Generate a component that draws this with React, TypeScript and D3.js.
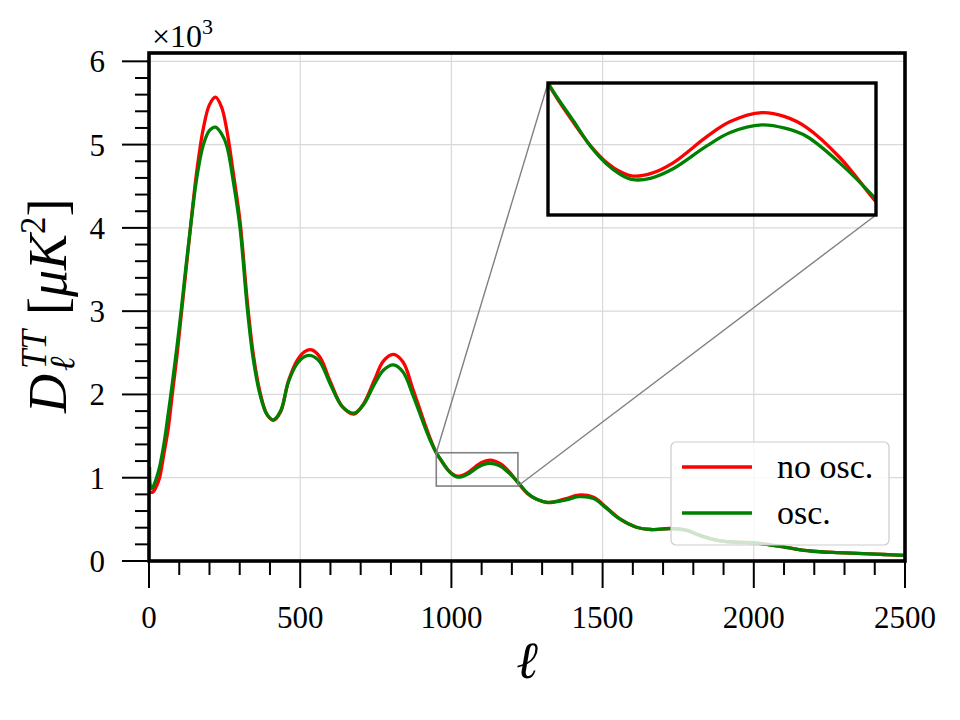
import React from "react";
import * as d3 from "d3";

// ---- data ----
const ells = [2, 5, 10, 16, 25, 35, 50, 64, 77, 92, 108, 122, 137, 158, 180, 200, 220, 240, 257, 280, 301, 326, 345, 367, 390, 411, 435, 461, 490, 515, 538, 565, 600, 640, 678, 710, 745, 775, 808, 840, 874, 910, 930, 950, 971, 985, 998, 1010, 1020, 1035, 1053, 1081, 1100, 1126, 1145, 1163, 1190, 1220, 1250, 1280, 1320, 1380, 1420, 1470, 1512, 1557, 1612, 1660, 1723, 1780, 1822, 1870, 1910, 1960, 2000, 2050, 2098, 2140, 2186, 2230, 2274, 2362, 2430, 2500];

const noOsc = [840, 828, 825, 840, 900, 1000, 1300, 1600, 2000, 2450, 3000, 3480, 4000, 4680, 5200, 5480, 5570, 5450, 5180, 4630, 4080, 3080, 2480, 2030, 1760, 1690, 1790, 2160, 2410, 2515, 2535, 2450, 2150, 1850, 1765, 1890, 2170, 2400, 2480, 2390, 2050, 1670, 1470, 1300, 1180, 1110, 1060, 1030, 1018, 1026, 1058, 1138, 1183, 1210, 1198, 1165, 1075, 940, 815, 745, 700, 750, 792, 765, 645, 505, 405, 378, 390, 368, 308, 257, 233, 224, 219, 196, 170, 144, 121, 108, 101, 89, 78, 67];

const osc = [1130, 900, 870, 910, 1000, 1130, 1420, 1780, 2130, 2560, 3060, 3530, 4000, 4600, 5000, 5170, 5210, 5130, 4990, 4530, 4000, 3000, 2420, 2000, 1760, 1695, 1800, 2150, 2370, 2455, 2465, 2390, 2120, 1850, 1775, 1880, 2120, 2290, 2355, 2270, 1980, 1630, 1450, 1300, 1185, 1108, 1055, 1022, 1007, 1012, 1040, 1110, 1150, 1173, 1163, 1138, 1058, 948, 820, 745, 705, 735, 772, 750, 635, 505, 405, 378, 388, 365, 305, 255, 232, 222, 217, 195, 169, 143, 120, 108, 101, 89, 78, 67];

const seriesNames = ["no osc.", "osc."];
const seriesColors = ["#ff0000", "#008000"];

const xMajorTicks = [0, 500, 1000, 1500, 2000, 2500];
const xTickLabels = ["0", "500", "1000", "1500", "2000", "2500"];
const yMajorTicks = [0, 1000, 2000, 3000, 4000, 5000, 6000];
const yTickLabels = ["0", "1", "2", "3", "4", "5", "6"];

const xDomain = [0, 2500];
const yDomain = [0, 6100];
const insetXDomain = [950, 1220];
const insetYDomain = [900, 1300];

const FONT = "'Liberation Serif', 'DejaVu Serif', serif";

export default function App() {
  const L = 149, R = 905, T = 53, B = 561;
  const x = d3.scaleLinear().domain(xDomain).range([L, R]);
  const y = d3.scaleLinear().domain(yDomain).range([B, T]);

  const IL = 548, IR = 876, IT = 83, IB = 215;
  const xi = d3.scaleLinear().domain(insetXDomain).range([IL, IR]);
  const yi = d3.scaleLinear().domain(insetYDomain).range([IB, IT]);

  const series = [noOsc, osc];
  const mkLine = (sx: any, sy: any) =>
    d3
      .line<number>()
      .x((_, i) => sx(ells[i]))
      .y((d) => sy(d))
      .curve(d3.curveCatmullRom.alpha(0.5));

  const mainLine = mkLine(x, y);
  const insetLine = mkLine(xi, yi);

  const xMinor = d3.range(0, 2501, 100).filter((v) => v % 500 !== 0);
  const yMinor = d3.range(0, 6001, 200).filter((v) => v % 1000 !== 0);

  const zx0 = x(insetXDomain[0]), zx1 = x(insetXDomain[1]);
  const zy0 = y(insetYDomain[1]), zy1 = y(insetYDomain[0]);

  return (
    <svg
      width={960}
      height={720}
      style={{ position: "absolute", left: 0, top: 0, background: "#fff" }}
      fontFamily={FONT}
    >
      <defs>
        <clipPath id="mainClip">
          <rect x={L} y={T} width={R - L} height={B - T} />
        </clipPath>
        <clipPath id="insetClip">
          <rect x={IL} y={IT} width={IR - IL} height={IB - IT} />
        </clipPath>
      </defs>
      <rect x={0} y={0} width={960} height={720} fill="#fff" />

      {/* grid */}
      {xMajorTicks.map((t) => (
        <line key={"gx" + t} x1={x(t)} x2={x(t)} y1={T} y2={B} stroke="#d9d9d9" strokeWidth={1.2} />
      ))}
      {yMajorTicks.map((t) => (
        <line key={"gy" + t} x1={L} x2={R} y1={y(t)} y2={y(t)} stroke="#d9d9d9" strokeWidth={1.2} />
      ))}

      {/* main curves */}
      <g clipPath="url(#mainClip)">
        {series.map((s, k) => (
          <path key={"m" + k} d={mainLine(s) || ""} fill="none" stroke={seriesColors[k]} strokeWidth={3.3} strokeLinejoin="round" />
        ))}
      </g>

      {/* zoom indicator */}
      <rect x={zx0} y={zy0} width={zx1 - zx0} height={zy1 - zy0} fill="none" stroke="#808080" strokeWidth={1.6} />
      <line x1={IL} y1={IT} x2={zx0} y2={zy0} stroke="#808080" strokeWidth={1.4} />
      <line x1={IR} y1={IB} x2={zx1} y2={zy1} stroke="#808080" strokeWidth={1.4} />

      {/* inset */}
      <g clipPath="url(#insetClip)">
        {series.map((s, k) => (
          <path key={"i" + k} d={insetLine(s) || ""} fill="none" stroke={seriesColors[k]} strokeWidth={3.3} strokeLinejoin="round" />
        ))}
      </g>
      <rect x={IL} y={IT} width={IR - IL} height={IB - IT} fill="none" stroke="#000" strokeWidth={3.4} />

      {/* legend */}
      <rect x={671} y={442} width={218} height={103} rx={5} fill="#fff" fillOpacity={0.8} stroke="#cccccc" strokeWidth={1.2} />
      {seriesNames.map((n, k) => (
        <g key={"lg" + k}>
          <line x1={682} x2={752} y1={467 + k * 46} y2={467 + k * 46} stroke={seriesColors[k]} strokeWidth={3.3} />
          <text x={777} y={478 + k * 46} fontSize={34} fill="#000">{n}</text>
        </g>
      ))}

      {/* ticks */}
      {xMajorTicks.map((t, i) => (
        <g key={"xt" + t}>
          <line x1={x(t)} x2={x(t)} y1={B} y2={B + 27} stroke="#000" strokeWidth={2} />
          <text x={x(t)} y={628} fontSize={31} textAnchor="middle">{xTickLabels[i]}</text>
        </g>
      ))}
      {xMinor.map((t) => (
        <line key={"xm" + t} x1={x(t)} x2={x(t)} y1={B} y2={B + 14} stroke="#000" strokeWidth={2} />
      ))}
      {yMajorTicks.map((t, i) => (
        <g key={"yt" + t}>
          <line x1={L - 27} x2={L} y1={y(t)} y2={y(t)} stroke="#000" strokeWidth={2} />
          <text x={105} y={y(t) + 11} fontSize={31} textAnchor="end">{yTickLabels[i]}</text>
        </g>
      ))}
      {yMinor.map((t) => (
        <line key={"ym" + t} x1={L - 14} x2={L} y1={y(t)} y2={y(t)} stroke="#000" strokeWidth={2} />
      ))}

      {/* spines */}
      <rect x={L} y={T} width={R - L} height={B - T} fill="none" stroke="#000" strokeWidth={3.6} />

      {/* offset text */}
      <text x={152} y={47} fontSize={32}>
        ×10<tspan fontSize={22} dy={-13}>3</tspan>
      </text>

      {/* x label */}
      <text x={(L + R) / 2} y={678} fontSize={52} fontStyle="italic" textAnchor="middle">ℓ</text>

      {/* y label */}
      <g transform="translate(66,413) rotate(-90)">
        <text x={0} y={0} fontSize={54} fontStyle="italic">D</text>
        <text x={44} y={-20} fontSize={35} fontStyle="italic">TT</text>
        <text x={42} y={8} fontSize={35} fontStyle="italic">ℓ</text>
        <text x={98} y={0} fontSize={54}>
          [<tspan fontStyle="italic">μK</tspan>
          <tspan fontSize={35} dy={-21}>2</tspan>
          <tspan dy={21}>]</tspan>
        </text>
      </g>
    </svg>
  );
}
